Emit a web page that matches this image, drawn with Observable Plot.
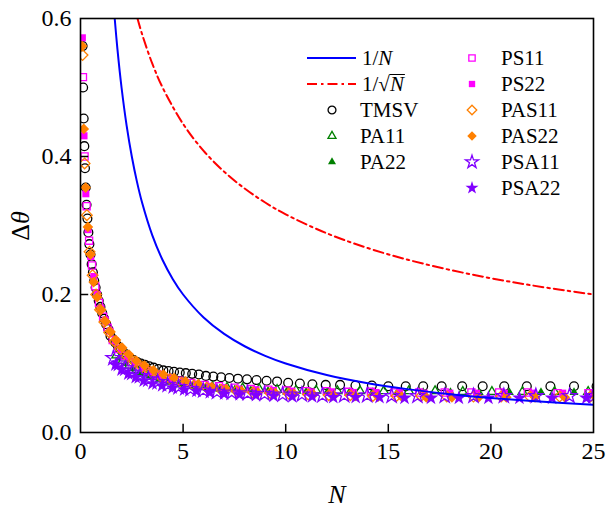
<!DOCTYPE html>
<html><head><meta charset="utf-8">
<script src="https://cdn.jsdelivr.net/npm/d3@7"></script>
<script src="https://cdn.jsdelivr.net/npm/@observablehq/plot@0.6"></script>
<style>
body{margin:0;background:#fff}
svg text, svg tspan { font-family: "Liberation Serif", "DejaVu Serif", serif !important; }
</style>
</head><body><div id="chart"></div>
<script>
const FONT = '"Liberation Serif", "DejaVu Serif", serif';
const xTicks = [0, 5, 10, 15, 20, 25];
const yTicks = [0, 0.2, 0.4, 0.6];
const innerXTicks = [5, 10, 15, 20];
const innerYTicks = [0.2, 0.4];

// reference curves 1/N and 1/sqrt(N)
const invN_N = [1.667, 1.8, 2, 2.25, 2.5, 2.75, 3, 3.5, 4, 4.5, 5, 6, 7, 8, 9, 10, 12, 14, 16, 18, 20, 22, 25];
const invN_V = [0.6, 0.5556, 0.5, 0.4444, 0.4, 0.3636, 0.3333, 0.2857, 0.25, 0.2222, 0.2, 0.1667, 0.1429, 0.125, 0.1111, 0.1, 0.0833, 0.0714, 0.0625, 0.0556, 0.05, 0.0455, 0.04];
const invSqrt_N = [2.778, 3, 3.5, 4, 5, 6, 7, 8, 9, 10, 12, 14, 16, 18, 20, 22, 25];
const invSqrt_V = [0.6, 0.5774, 0.5345, 0.5, 0.4472, 0.4082, 0.378, 0.3536, 0.3333, 0.3162, 0.2887, 0.2673, 0.25, 0.2357, 0.2236, 0.2132, 0.2];

// TMSV
const tmsvN = [0.103, 0.128, 0.155, 0.186, 0.219, 0.255, 0.295, 0.337, 0.384, 0.433, 0.486, 0.543, 0.604, 0.669, 0.737, 0.811, 0.888, 0.971, 1.058, 1.151, 1.249, 1.352, 1.462, 1.578, 1.700, 1.828, 1.964, 2.108, 2.258, 2.418, 2.584, 2.762, 2.948, 3.144, 3.351, 3.568, 3.797, 4.037, 4.291, 4.557, 4.837, 5.132, 5.443, 5.769, 6.112, 6.474, 6.853, 7.253, 7.673, 8.115, 8.579, 9.068, 9.581, 10.12, 10.69, 11.3, 11.95, 12.65, 13.4, 14.2, 15.0, 15.85, 16.7, 17.6, 18.6, 19.6, 20.65, 21.75, 22.9, 24.05, 25.15];
const tmsvD = [0.56, 0.50, 0.455, 0.415, 0.383, 0.355, 0.33, 0.31, 0.29, 0.273, 0.258, 0.244, 0.232, 0.22, 0.21, 0.2, 0.191, 0.182, 0.173, 0.165, 0.157, 0.15, 0.14, 0.135, 0.13, 0.125, 0.12, 0.116, 0.112, 0.108, 0.105, 0.102, 0.1, 0.098, 0.096, 0.094, 0.092, 0.09, 0.089, 0.088, 0.087, 0.086, 0.085, 0.084, 0.082, 0.081, 0.08, 0.079, 0.078, 0.077, 0.076, 0.075, 0.074, 0.072, 0.071, 0.07, 0.069, 0.069, 0.068, 0.068, 0.067, 0.067, 0.067, 0.067, 0.067, 0.067, 0.067, 0.067, 0.067, 0.067, 0.067];

// PA11 / PA22
const pa11N = [1.75, 2.05, 2.38, 2.74, 3.14, 3.58, 4.06, 4.58, 5.15, 5.77, 6.43, 7.14, 7.9, 8.71, 9.58, 10.5, 11.48, 12.52, 13.62, 14.78, 16.0, 17.28, 18.63, 20.05, 21.54, 23.1, 24.74];
const pa11D = [0.112, 0.104, 0.097, 0.091, 0.086, 0.081, 0.077, 0.074, 0.071, 0.068, 0.066, 0.065, 0.064, 0.063, 0.062, 0.061, 0.061, 0.06, 0.06, 0.06, 0.06, 0.06, 0.059, 0.059, 0.059, 0.059, 0.059];
const pa22N = [1.9, 2.22, 2.57, 2.96, 3.38, 3.84, 4.34, 4.88, 5.47, 6.1, 6.78, 7.52, 8.3, 9.14, 10.04, 11.0, 12.02, 13.1, 14.24, 15.44, 16.7, 18.03, 19.43, 20.9, 22.44, 24.05];
const pa22D = [0.108, 0.1, 0.093, 0.087, 0.082, 0.077, 0.073, 0.07, 0.067, 0.065, 0.063, 0.062, 0.061, 0.06, 0.059, 0.059, 0.058, 0.058, 0.058, 0.058, 0.058, 0.058, 0.058, 0.058, 0.058, 0.058];

// PS11 / PS22
const ps11N = [0.12, 0.2, 0.3, 0.42, 0.56, 0.72, 0.9, 1.1, 1.32, 1.57, 1.85, 2.15, 2.5, 2.88, 3.3, 3.75, 4.25, 4.8, 5.4, 6.05, 6.75, 7.5, 8.3, 9.15, 10.05, 11.0, 12.0, 13.05, 14.15, 15.3, 16.5, 17.75, 19.05, 20.4, 21.8, 23.25, 24.75];
const ps11D = [0.515, 0.40, 0.328, 0.278, 0.242, 0.212, 0.188, 0.168, 0.152, 0.134, 0.121, 0.111, 0.102, 0.095, 0.089, 0.084, 0.079, 0.075, 0.072, 0.069, 0.067, 0.065, 0.063, 0.062, 0.061, 0.06, 0.06, 0.059, 0.059, 0.058, 0.058, 0.058, 0.058, 0.058, 0.058, 0.057, 0.057];
const ps22N = [0.09, 0.17, 0.26, 0.37, 0.5, 0.65, 0.82, 1.0, 1.21, 1.44, 1.7, 1.98, 2.3, 2.65, 3.05, 3.48, 3.95, 4.47, 5.05, 5.65, 6.3, 7.0, 7.75, 8.55, 9.4, 10.3, 11.25, 12.25, 13.3, 14.4, 15.55, 16.75, 18.0, 19.3, 20.65, 22.05, 23.5, 25.0];
const ps22D = [0.572, 0.43, 0.346, 0.294, 0.255, 0.226, 0.2, 0.18, 0.163, 0.147, 0.133, 0.121, 0.111, 0.102, 0.095, 0.088, 0.083, 0.078, 0.074, 0.07, 0.067, 0.065, 0.063, 0.062, 0.061, 0.06, 0.059, 0.059, 0.058, 0.058, 0.058, 0.057, 0.057, 0.057, 0.057, 0.057, 0.057, 0.057];

// PAS11 / PAS22
const pas11N = [0.1, 0.2, 0.31, 0.44, 0.59, 0.76, 0.95, 1.16, 1.4, 1.66, 1.95, 2.27, 2.62, 3.0, 3.42, 3.88, 4.38, 4.93, 5.52, 6.15, 6.85, 7.6, 8.4, 9.25, 10.15, 11.1, 12.1, 13.15, 14.25, 15.4, 16.6, 17.85, 19.15, 20.5, 21.9, 23.35, 24.85];
const pas11D = [0.547, 0.39, 0.315, 0.262, 0.228, 0.2, 0.178, 0.16, 0.145, 0.132, 0.121, 0.111, 0.103, 0.095, 0.088, 0.082, 0.077, 0.072, 0.068, 0.065, 0.062, 0.06, 0.058, 0.057, 0.056, 0.055, 0.054, 0.054, 0.053, 0.053, 0.053, 0.052, 0.052, 0.052, 0.052, 0.052, 0.052];
const pas22N = [0.08, 0.16, 0.25, 0.36, 0.49, 0.64, 0.81, 1.0, 1.22, 1.46, 1.73, 2.03, 2.36, 2.72, 3.12, 3.56, 4.04, 4.56, 5.12, 5.74, 6.4, 7.1, 7.85, 8.65, 9.5, 10.4, 11.35, 12.35, 13.4, 14.5, 15.65, 16.85, 18.1, 19.4, 20.75, 22.15, 23.6, 25.1];
const pas22D = [0.56, 0.44, 0.355, 0.298, 0.258, 0.218, 0.196, 0.178, 0.161, 0.146, 0.134, 0.123, 0.113, 0.104, 0.097, 0.09, 0.084, 0.079, 0.074, 0.07, 0.066, 0.063, 0.06, 0.058, 0.057, 0.056, 0.055, 0.054, 0.053, 0.052, 0.052, 0.051, 0.051, 0.051, 0.051, 0.051, 0.051, 0.051];

// PSA11 / PSA22
const psa11N = [1.6, 1.88, 2.19, 2.53, 2.9, 3.31, 3.76, 4.25, 4.78, 5.36, 5.98, 6.65, 7.37, 8.14, 8.97, 9.85, 10.79, 11.79, 12.85, 13.97, 15.16, 16.42, 17.75, 19.15, 20.63, 22.19, 23.83, 25.0];
const psa11D = [0.108, 0.1, 0.093, 0.087, 0.082, 0.077, 0.073, 0.069, 0.066, 0.063, 0.061, 0.059, 0.058, 0.057, 0.056, 0.055, 0.055, 0.054, 0.054, 0.054, 0.053, 0.053, 0.053, 0.053, 0.053, 0.053, 0.053, 0.053];
const psa22N = [1.7, 2.0, 2.33, 2.69, 3.08, 3.51, 3.98, 4.49, 5.05, 5.65, 6.3, 7.0, 7.75, 8.55, 9.41, 10.32, 11.29, 12.32, 13.41, 14.57, 15.79, 17.08, 18.44, 19.88, 21.39, 22.98, 24.65];
const psa22D = [0.098, 0.091, 0.085, 0.08, 0.075, 0.071, 0.068, 0.065, 0.062, 0.06, 0.058, 0.056, 0.055, 0.054, 0.053, 0.052, 0.052, 0.051, 0.051, 0.051, 0.05, 0.05, 0.05, 0.05, 0.05, 0.05, 0.05];

const BLUE = "#0000ff", RED = "#ff0000", BLACK = "#000000", GREEN = "#008000",
      MAGENTA = "#ff00ff", ORANGE = "#ff8000", PURPLE = "#8000ff";

const series = [
  {name: "TMSV",  N: tmsvN,  D: tmsvD,  symbol: "circle",    r: 4.4, color: BLACK,   filled: false},
  {name: "PA11",  N: pa11N,  D: pa11D,  symbol: "triangle2", r: 4.3, color: GREEN,   filled: false},
  {name: "PA22",  N: pa22N,  D: pa22D,  symbol: "triangle2", r: 4.3, color: GREEN,   filled: true},
  {name: "PS11",  N: ps11N,  D: ps11D,  symbol: "square",    r: 4.0, color: MAGENTA, filled: false},
  {name: "PS22",  N: ps22N,  D: ps22D,  symbol: "square",    r: 4.0, color: MAGENTA, filled: true},
  {name: "PAS11", N: pas11N, D: pas11D, symbol: "diamond2",  r: 4.8, color: ORANGE,  filled: false},
  {name: "PAS22", N: pas22N, D: pas22D, symbol: "diamond2",  r: 4.8, color: ORANGE,  filled: true},
  {name: "PSA11", N: psa11N, D: psa11D, symbol: "star",      r: 4.6, color: PURPLE,  filled: false},
  {name: "PSA22", N: psa22N, D: psa22D, symbol: "star",      r: 4.6, color: PURPLE,  filled: true}
];

const toRows = (Ns, Vs) => Ns.map((n, i) => ({N: n, v: Vs[i]}));

const marks = [];
for (const s of series) {
  marks.push(Plot.dot(toRows(s.N, s.D), {
    x: "N", y: "v", symbol: s.symbol, r: s.r,
    stroke: s.filled ? "none" : s.color, fill: s.filled ? s.color : "none",
    strokeWidth: 1.3, clip: true
  }));
}
marks.push(Plot.line(toRows(invN_N, invN_V), {x: "N", y: "v", stroke: BLUE, strokeWidth: 2, curve: "catmull-rom", clip: true}));
marks.push(Plot.line(toRows(invSqrt_N, invSqrt_V), {x: "N", y: "v", stroke: RED, strokeWidth: 2, strokeDasharray: "10,4,2.5,4", curve: "catmull-rom", clip: true}));
marks.push(Plot.ruleX(innerXTicks, {y1: 0, y2: 0.0118, stroke: "black", strokeWidth: 1.5}));
marks.push(Plot.ruleY(innerYTicks, {x1: 0, x2: 0.4, stroke: "black", strokeWidth: 1.5}));
marks.push(Plot.frame({stroke: "black", strokeWidth: 1.6}));
marks.push(Plot.axisX(xTicks, {tickSize: 0, tickPadding: 9, fontSize: 24, label: null, tickFormat: d3.format("d")}));
marks.push(Plot.axisY(yTicks, {tickSize: 0, tickPadding: 9, fontSize: 24, label: null, tickFormat: d3.format(".1f")}));

const chart = Plot.plot({
  width: 607, height: 512,
  marginLeft: 80, marginRight: 14, marginTop: 18, marginBottom: 80,
  x: {domain: [0, 25]},
  y: {domain: [0, 0.6]},
  style: {fontFamily: FONT, fontSize: "24px", color: "black", background: "white", overflow: "visible"},
  marks
});
document.getElementById("chart").appendChild(chart);

const svg = d3.select(chart);
// axis titles
svg.append("text").attr("x", 337).attr("y", 494).attr("text-anchor", "middle")
  .attr("dominant-baseline", "central").attr("font-size", 26)
  .attr("font-style", "italic").attr("fill", "black").text("N");
const yt = svg.append("text").attr("transform", "translate(20,226) rotate(-90)").attr("text-anchor", "middle")
  .attr("dominant-baseline", "central").attr("font-size", 26).attr("fill", "black");
yt.append("tspan").text("Δ");
yt.append("tspan").attr("font-style", "italic").text("θ");

// legend
const lg = svg.append("g").attr("font-size", 21).attr("fill", "black").attr("text-anchor", "start");
const rowsY = [58, 84, 110, 136, 162, 188];
const textLabel = (x, y, parts) => {
  const t = lg.append("text").attr("x", x).attr("y", y).attr("dy", "0.35em").attr("text-anchor", "start");
  for (const [str, it] of parts) {
    const sp = t.append("tspan").text(str);
    if (it) sp.attr("font-style", "italic");
  }
  return t;
};
lg.append("line").attr("x1", 307).attr("x2", 356).attr("y1", rowsY[0]).attr("y2", rowsY[0]).attr("stroke", BLUE).attr("stroke-width", 2);
textLabel(362, rowsY[0], [["1/", false], ["N", true]]);
lg.append("line").attr("x1", 307).attr("x2", 356).attr("y1", rowsY[1]).attr("y2", rowsY[1]).attr("stroke", RED).attr("stroke-width", 2).attr("stroke-dasharray", "10,4,2.5,4");
const tq = lg.append("text").attr("x", 362).attr("y", rowsY[1]).attr("dy", "0.35em").attr("text-anchor", "start").text("1/√");
const qlen = tq.node().getComputedTextLength();
const tn = lg.append("text").attr("x", 362 + qlen).attr("y", rowsY[1]).attr("dy", "0.35em").attr("text-anchor", "start").attr("font-style", "italic").text("N");
const nlen = tn.node().getComputedTextLength();
lg.append("line").attr("x1", 362 + qlen - 0.5).attr("x2", 362 + qlen + nlen + 1).attr("y1", rowsY[1] - 9.5).attr("y2", rowsY[1] - 9.5).attr("stroke", "black").attr("stroke-width", 1);

const symMap = {circle: d3.symbolCircle, triangle2: d3.symbolTriangle2, square: d3.symbolSquare, diamond2: d3.symbolDiamond2, star: d3.symbolStar};
const legendPos = [
  [332, rowsY[2]], [332, rowsY[3]], [332, rowsY[4]],
  [472, rowsY[0]], [472, rowsY[1]], [472, rowsY[2]], [472, rowsY[3]], [472, rowsY[4]], [472, rowsY[5]]
];
series.forEach((s, i) => {
  const [x, y] = legendPos[i];
  const size = Math.PI * s.r * s.r * 0.8;
  lg.append("path").attr("d", d3.symbol(symMap[s.symbol], size)())
    .attr("transform", `translate(${x},${y})`)
    .attr("fill", s.filled ? s.color : "none").attr("stroke", s.filled ? "none" : s.color).attr("stroke-width", 1.3);
  textLabel(x < 400 ? 360 : 501, y, [[s.name, false]]);
});
</script>
</body></html>
